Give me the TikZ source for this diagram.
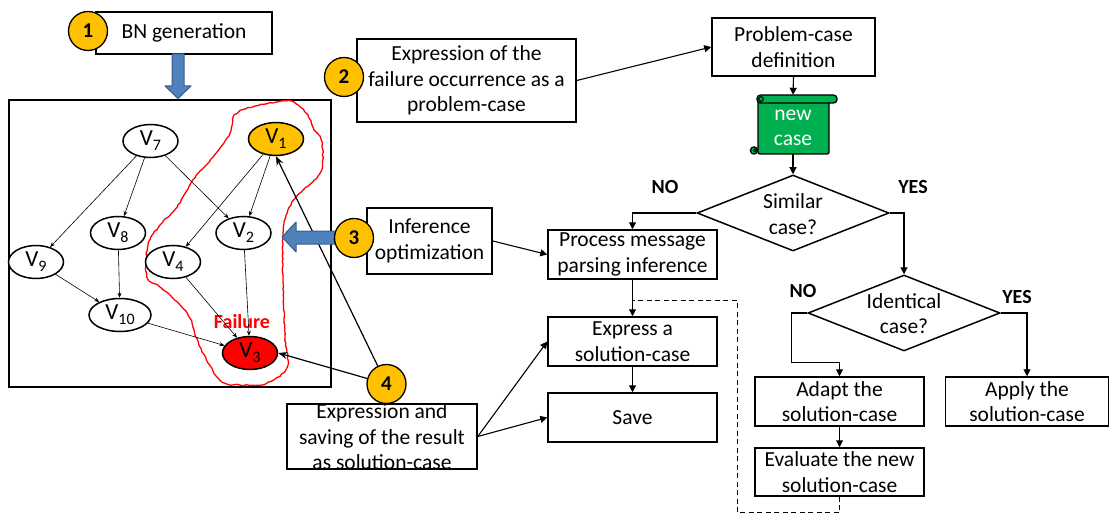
\documentclass[tikz,border=0pt]{standalone}
\usepackage{fontspec}
\setmainfont{Carlito}
\usetikzlibrary{shapes.geometric,arrows.meta,decorations.pathmorphing,calc}
\definecolor{badgeorange}{HTML}{FFC000}
\definecolor{arrowblue}{HTML}{4F81BD}
\definecolor{arrowedge}{HTML}{385D8A}
\definecolor{casegreen}{HTML}{00B050}
\definecolor{failred}{HTML}{FF0000}
% variable name with a lowered index
\newcommand\Vn[1]{V\raisebox{-5pt}{\fontsize{16}{16}\selectfont #1}}

\begin{document}
\begin{tikzpicture}[x=1pt,y=-1pt,
  font=\fontsize{21.5}{25.5}\selectfont,
  box/.style={draw, line width=1.5pt, inner sep=0pt, align=center, fill=white},
  bnnode/.style={ellipse, draw, line width=1.5pt, minimum width=55pt, minimum height=33pt,
                 inner sep=0pt, fill=white, font=\fontsize{23}{23}\selectfont},
  bnedge/.style={-{Stealth[length=5pt,width=4pt]}, line width=0.6pt},
  flow/.style={-{Triangle[length=7pt,width=7pt]}, line width=1.1pt},
  pointer/.style={-{Stealth[length=9pt,width=7pt]}, line width=1.2pt},
  badge/.style={circle, draw, line width=1.3pt, fill=badgeorange, minimum size=39pt,
                inner sep=0pt, font=\fontsize{21}{21}\selectfont\bfseries},
  decision/.style={diamond, draw, line width=1.5pt, minimum width=192pt, minimum height=76pt,
                   inner sep=0pt, fill=white},
  answer/.style={font=\fontsize{20}{20}\selectfont\bfseries},
  bigarrow/.style={fill=arrowblue, draw=arrowedge, line width=1pt, line join=round}
]
\path[use as bounding box] (0,0) rectangle (1110,513);

% ---------------- Bayesian network panel ----------------
\node[draw, line width=1.8pt, minimum width=322pt, minimum height=287pt, inner sep=0pt]
  (bnframe) at (170,243.5) {};

% hand-drawn contour around the failure path
\draw[failred, line width=1.3pt, decorate,
      decoration={random steps, segment length=3pt, amplitude=0.6pt}]
  plot[smooth cycle, tension=0.6] coordinates {
    (235,115) (255,106) (277,102) (293,102) (306,113) (313,127) (322,143) (320,173)
    (300,193) (288,210) (283,235) (283,280) (285,337) (287,367) (267,383) (240,385)
    (220,380) (200,347) (187,313) (160,287) (147,277) (148,245) (160,225) (177,207)
    (193,180) (213,157) (230,133)};

\node[bnnode] (v7) at (150.5,141) {\Vn{7}};
\node[bnnode, fill=badgeorange] (v1) at (276,139) {\Vn{1}};
\node[bnnode] (v8) at (118,233) {\Vn{8}};
\node[bnnode] (v2) at (243.5,233) {\Vn{2}};
\node[bnnode] (v9) at (36,262) {\Vn{9}};
\node[bnnode] (v4) at (173,262) {\Vn{4}};
\node[bnnode, minimum width=62pt] (v10) at (120,315) {\Vn{10}};
\node[bnnode, fill=failred] (v3) at (250,353) {\Vn{3}};
\node[text=failred, font=\fontsize{20}{20}\selectfont\bfseries] (fail) at (242,322) {Failure};

\draw[bnedge] (v7) -- (v9);
\draw[bnedge] (v7) -- (v8);
\draw[bnedge] (v7) -- (v2);
\draw[bnedge] (v1) -- (v4);
\draw[bnedge] (v1) -- (v2);
\draw[bnedge] (v9) -- (v10);
\draw[bnedge] (v8) -- (v10);
\draw[bnedge] (v10) -- (v3);
\draw[bnedge] (v4) -- (v3);
\draw[bnedge] (v2) -- (v3);

% ---------------- boxes ----------------
\node[box, minimum width=176pt, minimum height=42pt] (bn) at (184,33) {BN generation};
\node[box, minimum width=219pt, minimum height=83pt] (exp2) at (466.5,80.5)
  {Expression of the\\failure occurrence as a\\problem-case};
\node[box, minimum width=163pt, minimum height=58pt] (pc) at (793.5,47)
  {Problem-case\\definition};
\node[box, minimum width=125pt, minimum height=66pt] (inf) at (429.5,241)
  {Inference\\optimization};
\node[box, minimum width=169pt, minimum height=49pt] (proc) at (632.5,254.5)
  {Process message\\parsing inference};
\node[box, minimum width=169pt, minimum height=49pt] (expr) at (632.5,341.5)
  {Express a\\solution-case};
\node[box, minimum width=169pt, minimum height=49pt] (save) at (632.5,417.5) {Save};
\node[box, minimum width=190pt, minimum height=65pt] (res4) at (382,436.5) {};
\node[align=center] (res4t) at (382,437)
  {Expression and\\saving of the result\\as solution-case};
\node[box, minimum width=169pt, minimum height=49pt] (adapt) at (839.5,401.5)
  {Adapt the\\solution-case};
\node[box, minimum width=163pt, minimum height=49pt] (apply) at (1027,401.5)
  {Apply the\\solution-case};
\node[box, minimum width=169pt, minimum height=48pt] (eval) at (839.5,472)
  {Evaluate the new\\solution-case};

% scroll holding the new case
\draw[fill=casegreen, line width=1.3pt, rounded corners=2pt] (758,100) rectangle (829,154);
\draw[fill=casegreen, line width=1.3pt, rounded corners=3.5pt] (757,95) rectangle (837,103);
\draw[fill=casegreen, line width=1.1pt] (761,99) circle (2.3);
\draw[fill=casegreen, line width=1.3pt] (754,150.5) circle (3.6);
\draw[fill=casegreen, line width=0.9pt] (755,150.5) circle (1.4);
\node[text=white, align=center, minimum width=80pt, minimum height=59pt, inner sep=0pt]
  (newcase) at (793,124.5) {};
\node[text=white, align=center] (newcaset) at (793,128) {new\\case};

% decisions
\node[decision] (sim) at (793,213) {};
\node[align=center] (simt) at (793,214) {Similar\\case?};
\node[decision] (ident) at (904,313) {};
\node[align=center] (identt) at (904,313.5) {Identical\\case?};

\node[answer] (no1) at (665,187) {NO};
\node[answer] (yes1) at (913,187) {YES};
\node[answer] (no2) at (803,291) {NO};
\node[answer] (yes2) at (1017,297) {YES};

% ---------------- connectors ----------------
\draw[flow] (exp2.east) -- (pc.west);
\draw[flow] (pc.south) -- (newcase.north);
\draw[flow] (newcase.south) -- (sim.north);
\draw[flow] (sim.west) -| (proc.north);
\draw[flow] (sim.east) -| (ident.north);
\draw[flow] (ident.west) -- ++(-16,0) |- ($(adapt.north)+(0,-14)$) -- (adapt.north);
\draw[flow] (ident.east) -| (apply.north);
\draw[flow] (adapt) -- (eval);
\draw[flow] (proc) -- (expr);
\draw[flow] (expr) -- (save);
\draw[flow] (inf.east) -- (proc.west);
\draw[flow] (res4.east) -- (expr.west);
\draw[flow] (res4.east) -- (save.west);

% feedback of the evaluated case
\coordinate (loopc) at (737,300);
\draw[line width=1pt, dash pattern=on 5pt off 3.5pt]
  (eval.south) -- ++(0,16) -| (loopc) -- (loopc -| proc.south);

% block arrow from generation into the network
\draw[bigarrow] (172,54) -- (184,54) -- (184,86) -- (191,86) -- (178,98.5)
  -- (165,86) -- (172,86) -- cycle;

% step badges and the result links back into the network
\node[badge] (c4) at (386.5,384) {4};
\draw[pointer] (c4) -- (v3.east);
\draw[pointer] (c4) -- (v1.south);

\draw[bigarrow] (340,231) -- (296,231) -- (296,222) -- (282,237) -- (296,252)
  -- (296,244) -- (340,244) -- cycle;

\node[badge] (c1) at (88,31) {1};
\node[badge] (c2) at (344,77) {2};
\node[badge] (c3) at (354,238) {3};
\end{tikzpicture}
\end{document}
